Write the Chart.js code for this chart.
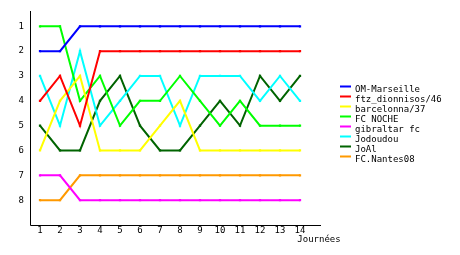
<!DOCTYPE html>
<html><head><meta charset="utf-8">
<script src="https://cdn.jsdelivr.net/npm/chart.js@4/dist/chart.umd.min.js"></script>
<style>html,body{margin:0;padding:0;background:#fff;}canvas{display:block;}</style>
</head><body>
<canvas id="c" width="460" height="255"></canvas>
<script>
const rounds = [1,2,3,4,5,6,7,8,9,10,11,12,13,14];
const rankTicks = [1,2,3,4,5,6,7,8];
const teams = ["OM-Marseille","ftz_dionnisos/46","barcelonna/37","FC NOCHE","gibraltar fc","Jodoudou","JoAl","FC.Nantes08"];
const omMarseille = [2,2,1,1,1,1,1,1,1,1,1,1,1,1];
const ftzDionnisos = [4,3,5,2,2,2,2,2,2,2,2,2,2,2];
const barcelonna = [6,4,3,6,6,6,5,4,6,6,6,6,6,6];
const fcNoche = [1,1,4,3,5,4,4,3,4,5,4,5,5,5];
const gibraltar = [7,7,8,8,8,8,8,8,8,8,8,8,8,8];
const jodoudou = [3,5,2,5,4,3,3,5,3,3,3,4,3,4];
const joAl = [5,6,6,4,3,5,6,6,5,4,5,3,4,3];
const fcNantes = [8,8,7,7,7,7,7,7,7,7,7,7,7,7];
const seriesValues = [omMarseille, ftzDionnisos, barcelonna, fcNoche, gibraltar, jodoudou, joAl, fcNantes];
const colors = ["#0000ff","#ff0000","#ffff00","#00ff00","#ff00ff","#00ffff","#006400","#ff9900"];

const FONT = "DejaVu Sans Mono";
const datasets = teams.map((t,i)=>({
  label: t,
  data: rounds.map((r,j)=>({x:r, y:seriesValues[i][j]})),
  borderColor: colors[i],
  backgroundColor: colors[i],
  borderWidth: 2,
  pointStyle: 'rect',
  pointRadius: 1.6,
  pointBorderWidth: 0,
  tension: 0
}));

const legendPlugin = {
  id: 'customLegend',
  afterDraw(chart){
    const ctx = chart.ctx;
    const a = chart.chartArea;
    ctx.save();
    ctx.strokeStyle = '#000';
    ctx.lineWidth = 1;
    ctx.beginPath();
    ctx.moveTo(Math.round(a.left) + 0.5, Math.round(a.top));
    ctx.lineTo(Math.round(a.left) + 0.5, Math.round(a.bottom) + 0.5);
    ctx.lineTo(Math.round(a.right), Math.round(a.bottom) + 0.5);
    ctx.stroke();
    ctx.font = "9px '" + FONT + "'";
    ctx.textBaseline = 'middle';
    chart.data.datasets.forEach((ds,i)=>{
      const y = 89.5 + i*10;
      ctx.fillStyle = ds.borderColor;
      ctx.fillRect(340, y-4, 11, 2);
      ctx.fillStyle = '#000';
      ctx.fillText(ds.label, 355, y);
    });
    ctx.textAlign = 'center';
    ctx.fillStyle = '#000';
    ctx.fillText("Journées", 319, 240);
    ctx.restore();
  }
};

new Chart(document.getElementById('c'), {
  type: 'line',
  data: { datasets },
  options: {
    responsive: false,
    animation: false,
    devicePixelRatio: 1,
    layout: { padding: { top: 10, right: 139, left: 0, bottom: 0 } },
    plugins: { legend: { display: false }, tooltip: { enabled: false } },
    scales: {
      x: {
        type: 'linear', min: 0.5, max: 15.05,
        grid: { display: false, drawTicks: false, tickLength: 0 },
        border: { display: false },
        afterBuildTicks(s){ s.ticks = rounds.map(v=>({value:v})); },
        afterFit(s){ s.height = 30; },
        ticks: { color: '#000', font: { family: FONT, size: 9 }, padding: 0, maxRotation: 0, autoSkip: false }
      },
      y: {
        type: 'linear', min: 0.4, max: 9, reverse: true,
        grid: { display: false, drawTicks: false, tickLength: 0 },
        border: { display: false },
        afterBuildTicks(s){ s.ticks = rankTicks.map(v=>({value:v})); },
        afterFit(s){ s.width = 30; },
        ticks: { color: '#000', font: { family: FONT, size: 9 }, padding: 6 }
      }
    }
  },
  plugins: [legendPlugin]
});
</script>
</body></html>
